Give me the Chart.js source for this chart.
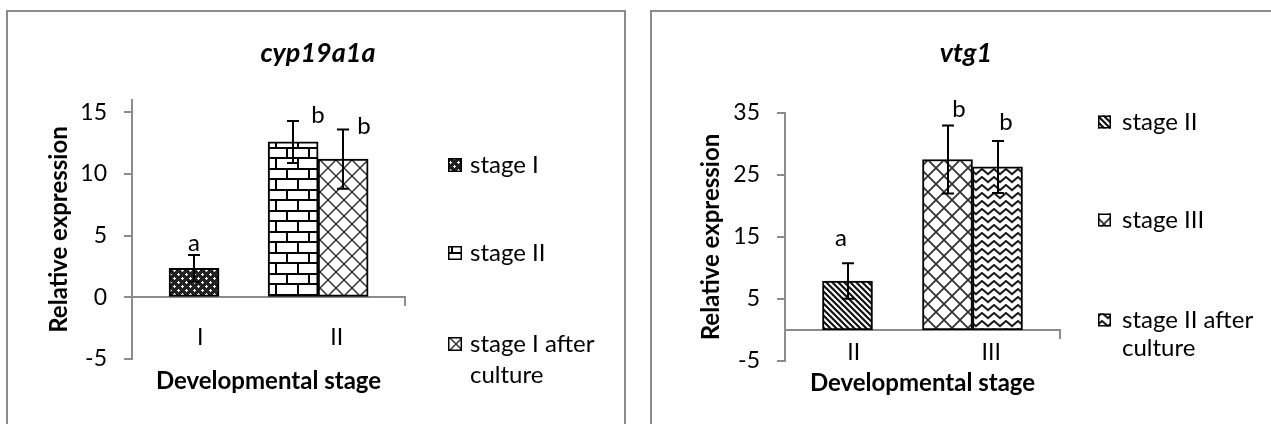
<!DOCTYPE html>
<html>
<head>
<meta charset="utf-8">
<script src="https://cdn.jsdelivr.net/npm/chart.js@4.4.1/dist/chart.umd.min.js"></script>
<style>
  html, body { margin: 0; padding: 0; background: #fff; overflow: hidden; width: 1271px; height: 424px; }
  .frame { position: absolute; border: 2px solid #8c8c8c; box-sizing: border-box; }
  canvas { position: absolute; top: 0; }
</style>
</head>
<body>
<div class="frame" style="left:6px;top:10px;width:620px;height:440px"></div>
<div class="frame" style="left:650px;top:10px;width:660px;height:440px"></div>
<canvas id="cyp" width="636" height="424" style="left:0"></canvas>
<canvas id="vtg" width="652" height="424" style="left:640px"></canvas>
<script>
// ---- cyp19a1a ----
const cypCategories = ['I', 'II'];
const cypSeries = [['stage I'], ['stage II'], ['stage I after', 'culture']];
const cypStageI = [2.35, null];
const cypStageII = [null, 12.6];
const cypAfterCulture = [null, 11.2];
const cypErrStageI = [1.08, null];
const cypErrStageII = [null, 1.7];
const cypErrAfterCulture = [null, 2.4];
const cypLetters = [['a', ''], ['', 'b'], ['', 'b']];
const cypTicks = [-5, 0, 5, 10, 15];

// ---- vtg1 ----
const vtgCategories = ['II', 'III'];
const vtgSeries = [['stage II'], ['stage III'], ['stage II after', 'culture']];
const vtgStageII = [7.9, null];
const vtgStageIII = [null, 27.5];
const vtgAfterCulture = [null, 26.3];
const vtgErrStageII = [2.85, null];
const vtgErrStageIII = [null, 5.5];
const vtgErrAfterCulture = [null, 4.2];
const vtgLetters = [['a', ''], ['', 'b'], ['', 'b']];
const vtgTicks = [-5, 5, 15, 25, 35];

const GRAY = '#8c8c8c';

// Hatch fills for the bars
function tile(w, h, draw) {
  const c = document.createElement('canvas');
  c.width = w; c.height = h;
  const g = c.getContext('2d');
  g.fillStyle = '#fff';
  g.fillRect(0, 0, w, h);
  draw(g, w, h);
  return g.createPattern(c, 'repeat');
}
const fills = {
  dots: () => tile(8, 8, g => {
    g.fillStyle = '#222'; g.fillRect(0, 0, 8, 8);
    g.fillStyle = '#fff';
    g.fillRect(1, 2, 3, 1); g.fillRect(2, 1, 1, 3);
    g.fillRect(5, 6, 3, 1); g.fillRect(6, 5, 1, 3);
  }),
  brick: () => tile(22, 21, g => {
    g.fillStyle = '#000';
    g.fillRect(0, 0, 22, 2); g.fillRect(0, 10, 22, 2);
    g.fillRect(0, 2, 2, 8); g.fillRect(11, 12, 2, 9);
  }),
  lattice: (lw, col) => tile(16, 16, g => {
    g.strokeStyle = col; g.lineWidth = lw;
    g.beginPath();
    g.moveTo(0, 0); g.lineTo(16, 16);
    g.moveTo(16, 0); g.lineTo(0, 16);
    g.stroke();
  }),
  stripes: () => tile(6, 6, g => {
    g.strokeStyle = '#111'; g.lineWidth = 2.2;
    g.beginPath();
    [-6, 0, 6].forEach(k => { g.moveTo(k - 1, -1); g.lineTo(k + 7, 7); });
    g.stroke();
  }),
  zigzag: () => tile(12, 8, g => {
    g.strokeStyle = '#1a1a1a'; g.lineWidth = 2;
    g.beginPath();
    g.moveTo(-1, 7); g.lineTo(6, 1); g.lineTo(13, 7);
    g.stroke();
  })
};

// Error bars with the significance letters above them
const errorBars = {
  id: 'errorBars',
  afterDatasetsDraw(chart, _args, o) {
    const ctx = chart.ctx;
    const y = chart.scales.y;
    ctx.save();
    chart.data.datasets.forEach((ds, di) => {
      const meta = chart.getDatasetMeta(di);
      meta.data.forEach((bar, i) => {
        const v = ds.data[i].y;
        if (v === null) return;
        const e = ds.errors[i];
        const top = y.getPixelForValue(v + e);
        const bot = y.getPixelForValue(v - e);
        const x = Math.round(bar.x);
        ctx.strokeStyle = '#000';
        ctx.lineWidth = 2;
        ctx.beginPath();
        ctx.moveTo(x, top); ctx.lineTo(x, bot);
        ctx.moveTo(x - 6, top); ctx.lineTo(x + 6, top);
        ctx.moveTo(x - 6, bot); ctx.lineTo(x + 6, bot);
        ctx.stroke();
        const s = o.shifts[di];
        ctx.fillStyle = '#000';
        ctx.font = o.size + 'px Lato';
        ctx.textAlign = 'center';
        ctx.textBaseline = 'alphabetic';
        ctx.fillText(ds.letters[i], x + s[0], top - s[1]);
      });
    });
    ctx.restore();
  }
};

// Legend column on the right-hand side of each panel
const sideLegend = {
  id: 'sideLegend',
  afterDraw(chart, _args, o) {
    const ctx = chart.ctx;
    ctx.save();
    ctx.font = o.size + 'px Lato';
    ctx.textBaseline = 'middle';
    ctx.textAlign = 'left';
    chart.data.datasets.forEach((ds, i) => {
      const y = o.rows[i];
      ctx.fillStyle = ds.backgroundColor;
      ctx.fillRect(o.x, y - o.box / 2, o.box, o.box);
      ctx.strokeStyle = '#000';
      ctx.lineWidth = 1.5;
      ctx.strokeRect(o.x + 0.75, y - o.box / 2 + 0.75, o.box - 1.5, o.box - 1.5);
      ctx.fillStyle = '#000';
      ds.legendLines.forEach((t, j) => ctx.fillText(t, o.x + o.box + o.gap, y + j * o.lineGap));
    });
    ctx.restore();
  }
};

function panel(id, p) {
  const datasets = p.series.map((lines, k) => ({
    label: lines.join(' '),
    legendLines: lines,
    data: p.values[k].map((v, i) => ({ x: i, y: v })),
    errors: p.errors[k],
    letters: p.letters[k],
    xAxisID: 'xb',
    yAxisID: 'y',
    backgroundColor: p.fills[k],
    borderColor: '#000',
    borderWidth: 2,
    borderSkipped: false,
    barThickness: 50,
    skipNull: true
  }));
  const lato = (size, extra) => Object.assign({ family: 'Lato', size }, extra || {});
  return new Chart(document.getElementById(id), {
    type: 'bar',
    data: { datasets },
    plugins: [errorBars, sideLegend],
    options: {
      responsive: false,
      animation: false,
      events: [],
      layout: { padding: 0 },
      plugins: {
        legend: { display: false },
        tooltip: { enabled: false },
        title: {
          display: true, text: p.title, color: '#000',
          font: lato(27, { weight: 'bold', style: 'italic' }),
          padding: { top: 36.8, bottom: p.titleGap }
        },
        errorBars: { shifts: p.letterShift, size: 24 },
        sideLegend: p.legend
      },
      scales: {
        x: {
          type: 'category', labels: p.categories, offset: true,
          position: { y: 0 },
          ticks: { font: lato(23), color: '#000', padding: p.catPad, maxRotation: 0 },
          grid: {
            offset: true, drawOnChartArea: false, drawTicks: true, tickLength: 8, lineWidth: 2,
            color: c => (c.type === 'scale' ? GRAY : 'rgba(0,0,0,0)')
          },
          border: { display: true, color: GRAY, width: 2 }
        },
        xb: {
          type: 'linear', position: 'bottom', min: -0.5, max: 1.7, offset: false,
          ticks: { display: false },
          grid: { display: false },
          border: { display: false },
          title: {
            display: true, text: 'Developmental stage', color: '#000',
            font: lato(24, { weight: 'bold' }), padding: { top: 0, bottom: p.xTitlePad }
          },
          afterFit: s => { s.height = 424 - p.plotBottom; }
        },
        y: {
          type: 'linear', position: 'left', min: p.yMin, max: p.yMax,
          afterBuildTicks: s => { s.ticks = p.ticks.map(v => ({ value: v })); },
          afterFit: s => { s.width = p.plotLeft; },
          ticks: { font: lato(23), color: '#000', padding: 17 },
          grid: { drawOnChartArea: false, drawTicks: true, tickLength: 8, lineWidth: 2, color: GRAY },
          border: { display: true, color: GRAY, width: 2 },
          title: {
            display: true, text: 'Relative expression', color: '#000',
            font: lato(24, { weight: 'bold' }), padding: { top: p.yTitlePad, bottom: 0 }
          }
        },
        side: {
          type: 'linear', position: 'right', display: true,
          ticks: { display: false }, grid: { display: false }, border: { display: false },
          afterFit: s => { s.width = p.sideWidth; }
        }
      }
    }
  });
}

function drawAll() {
  panel('cyp', {
    title: 'cyp19a1a',
    categories: cypCategories,
    series: cypSeries,
    values: [cypStageI, cypStageII, cypAfterCulture],
    errors: [cypErrStageI, cypErrStageII, cypErrAfterCulture],
    letters: cypLetters,
    ticks: cypTicks,
    fills: [fills.dots(), fills.brick(), fills.lattice(1.5, '#333')],
    yMin: -5, yMax: 16,
    plotLeft: 132, plotBottom: 359, sideWidth: 231,
    titleGap: 30.8, catPad: 18, xTitlePad: 28.6, yTitlePad: 44.6,
    letterShift: [[0, 4], [25, -2], [21, -4]],
    legend: { x: 448, box: 14, gap: 8, size: 24, rows: [165, 253, 344], lineGap: 31 }
  });
  panel('vtg', {
    title: 'vtg1',
    categories: vtgCategories,
    series: vtgSeries,
    values: [vtgStageII, vtgStageIII, vtgAfterCulture],
    errors: [vtgErrStageII, vtgErrStageIII, vtgErrAfterCulture],
    letters: vtgLetters,
    ticks: vtgTicks,
    fills: [fills.stripes(), fills.lattice(1.8, '#333'), fills.zigzag()],
    yMin: -5, yMax: 35,
    plotLeft: 145, plotBottom: 361, sideWidth: 232,
    titleGap: 43.8, catPad: 1, xTitlePad: 26.1, yTitlePad: 56.6,
    letterShift: [[-7, 17], [11, 8], [8, 11]],
    legend: { x: 458, box: 13, gap: 11, size: 24, rows: [122, 220, 320], lineGap: 28 }
  });
}

Promise.all([
  document.fonts.load('23px Lato'),
  document.fonts.load('bold 24px Lato'),
  document.fonts.load('italic bold 27px Lato')
]).catch(() => {}).then(drawAll);
</script>
</body>
</html>
